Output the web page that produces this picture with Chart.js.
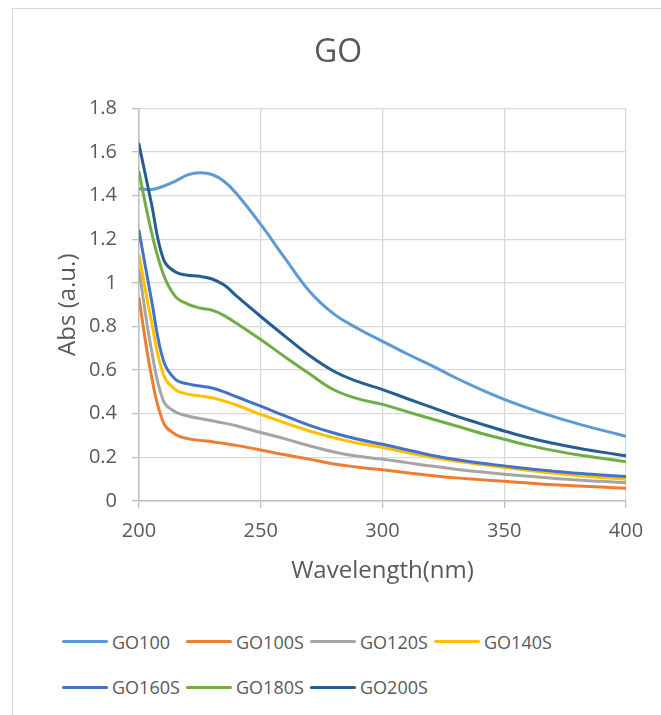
<meta charset="utf8"/>
<style>
body{margin:0;overflow:hidden;background:#fff;font-family:"Open Sans",sans-serif;}
#_frame{position:absolute;left:12px;top:8px;width:700px;height:760px;border-left:1.5px solid #d9d9d9;border-top:1.5px solid #d9d9d9;}
#_box{position:absolute;left:0;top:0;width:661px;height:610px;}
#_legend{position:absolute;left:62px;top:619px;display:grid;grid-template-columns:repeat(4,124px);grid-auto-rows:45.6px;}
#_legend div{display:flex;align-items:center;font-size:18px;color:#595959;white-space:nowrap;}
#_legend span{display:inline-block;width:46px;height:3px;border-radius:2px;margin-right:4px;}
</style>

<div id="_frame"></div>
<div id="_box"><canvas id="_chart"></canvas></div>
<div id="_legend"></div>

<script src="https://cdn.jsdelivr.net/npm/chart.js"></script>
<script>
const wavelength = [200,205,210,215,220,225,230,235,240,250,260,270,280,290,300,310,320,330,340,350,360,370,380,390,400];

const go100  = [1.432,1.428,1.443,1.467,1.495,1.505,1.497,1.465,1.41,1.268,1.112,0.962,0.858,0.79,0.732,0.675,0.622,0.565,0.513,0.466,0.425,0.388,0.355,0.325,0.297];
const go100s = [0.93,0.58,0.36,0.305,0.286,0.278,0.272,0.264,0.255,0.234,0.212,0.192,0.17,0.155,0.143,0.13,0.117,0.106,0.098,0.09,0.082,0.075,0.069,0.064,0.058];
const go120s = [1.059,0.70,0.46,0.408,0.39,0.378,0.368,0.357,0.345,0.314,0.285,0.253,0.225,0.205,0.192,0.176,0.16,0.146,0.134,0.123,0.113,0.104,0.096,0.09,0.084];
const go140s = [1.128,0.83,0.58,0.51,0.49,0.482,0.473,0.458,0.44,0.397,0.358,0.321,0.29,0.265,0.245,0.222,0.2,0.183,0.168,0.154,0.14,0.128,0.117,0.108,0.1];
const go160s = [1.239,0.93,0.645,0.557,0.537,0.527,0.518,0.5,0.478,0.435,0.39,0.347,0.312,0.283,0.26,0.235,0.21,0.19,0.174,0.161,0.148,0.137,0.127,0.119,0.112];
const go180s = [1.508,1.24,1.04,0.937,0.903,0.885,0.875,0.85,0.815,0.74,0.66,0.583,0.51,0.468,0.443,0.41,0.377,0.345,0.312,0.283,0.255,0.232,0.212,0.196,0.18];
const go200s = [1.635,1.37,1.11,1.05,1.035,1.03,1.018,0.99,0.94,0.846,0.755,0.667,0.595,0.547,0.511,0.47,0.43,0.39,0.355,0.321,0.29,0.265,0.243,0.224,0.207];

const seriesNames  = ['GO100','GO100S','GO120S','GO140S','GO160S','GO180S','GO200S'];
const seriesValues = [go100, go100s, go120s, go140s, go160s, go180s, go200s];
const colors = ['#5B9BD5','#ED7D31','#A5A5A5','#FFC000','#4472C4','#70AD47','#255E91'];

const xTicks = [200,250,300,350,400];
const yTicks = [0,0.2,0.4,0.6,0.8,1,1.2,1.4,1.6,1.8];

const txt = '#595959';
const font = 'Open Sans';

const chart = new Chart(_chart, {
	type: 'line',
	data: {
		datasets: seriesNames.map((name, i) => ({
			label: name,
			data: wavelength.map((x, j) => ({x: x, y: seriesValues[i][j]})),
			borderColor: colors[i],
			backgroundColor: colors[i],
			borderWidth: 3,
			borderCapStyle: 'round',
			borderJoinStyle: 'round',
			pointRadius: 0,
			tension: 0.4,
			fill: false,
			order: seriesNames.length - i,
		}))
	},
	options: {
		responsive: true,
		maintainAspectRatio: false,
		animation: false,
		layout: {padding: {left: 50, right: 35, top: 0, bottom: 20}},
		plugins: {
			legend: {display: false},
			tooltip: {enabled: false},
			title: {
				display: true,
				text: 'GO',
				color: txt,
				font: {family: font, size: 32, weight: 'normal'},
				padding: {top: 34, bottom: 36},
			},
		},
		scales: {
			x: {
				type: 'linear',
				min: 200,
				max: 400,
				afterBuildTicks: s => { s.ticks = xTicks.map(v => ({value: v})); },
				afterFit: s => { s.height = 89; },
				ticks: {color: txt, font: {family: font, size: 20}, padding: 11, maxRotation: 0},
				grid: {color: '#d9d9d9', lineWidth: 1.3, tickLength: 7, tickColor: '#bfbfbf'},
				border: {color: '#bfbfbf', width: 1.5},
				title: {
					display: true,
					text: 'Wavelength(nm)',
					color: txt,
					font: {family: font, size: 24},
					padding: {top: 0, bottom: 4},
				},
			},
			y: {
				min: 0,
				max: 1.8,
				afterBuildTicks: s => { s.ticks = yTicks.map(v => ({value: v})); },
				afterFit: s => { s.width = 89; },
				ticks: {color: txt, font: {family: font, size: 20}, padding: 15, callback: v => String(Math.round(v * 10) / 10)},
				grid: {color: '#d9d9d9', lineWidth: 1.3, tickLength: 7, tickColor: '#bfbfbf'},
				border: {color: '#bfbfbf', width: 1.5},
				title: {
					display: true,
					text: 'Abs (a.u.)',
					color: txt,
					font: {family: font, size: 24},
					padding: {top: 4, bottom: 0},
				},
			},
		},
	}
});

// legend in Excel's fixed-width columns
chart.data.datasets.forEach(ds => {
	const d = document.createElement('div');
	d.innerHTML = '<span style="background:' + ds.borderColor + '"></span>' + ds.label;
	_legend.append(d);
});
</script>
